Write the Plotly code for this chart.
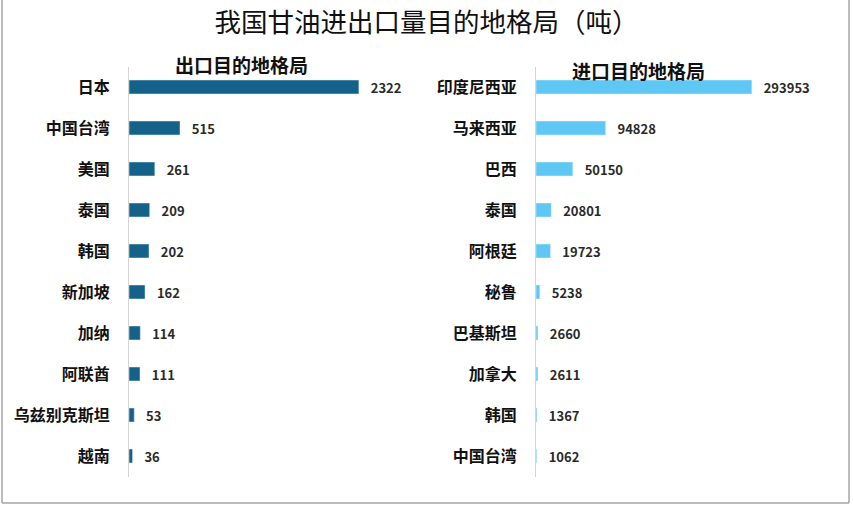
import plotly.graph_objects as go

# ---- data ----
export_countries = ["日本", "中国台湾", "美国", "泰国", "韩国", "新加坡", "加纳", "阿联酋", "乌兹别克斯坦", "越南"]
export_tons = [2322, 515, 261, 209, 202, 162, 114, 111, 53, 36]

import_countries = ["印度尼西亚", "马来西亚", "巴西", "泰国", "阿根廷", "秘鲁", "巴基斯坦", "加拿大", "韩国", "中国台湾"]
import_tons = [293953, 94828, 50150, 20801, 19723, 5238, 2660, 2611, 1367, 1062]

font_cjk = "Noto Sans CJK SC"
W, H = 853, 505


def px_x(v):
    return v / W


def px_y(v):
    return 1 - v / H


fig = go.Figure()

fig.add_trace(go.Bar(
    y=export_countries,
    x=export_tons,
    orientation="h",
    marker_color="#146289",
    text=["   " + str(v) for v in export_tons],
    textposition="outside",
    constraintext="none",
    textfont=dict(size=13, color="#2a2a2a", family=font_cjk, weight="bold"),
    cliponaxis=False,
    xaxis="x",
    yaxis="y",
    showlegend=False,
))

fig.add_trace(go.Bar(
    y=import_countries,
    x=import_tons,
    orientation="h",
    marker_color="#5fc7f3",
    text=["   " + str(v) for v in import_tons],
    textposition="outside",
    constraintext="none",
    textfont=dict(size=13, color="#2a2a2a", family=font_cjk, weight="bold"),
    cliponaxis=False,
    xaxis="x2",
    yaxis="y2",
    showlegend=False,
))

axis_y = dict(
    showline=True,
    linecolor="#d4d4d4",
    linewidth=1,
    showgrid=False,
    ticks="",
    ticklabelstandoff=15,
    tickfont=dict(size=16, color="#111111", family=font_cjk, weight="bold"),
    autorange="reversed",
    domain=[px_y(476.5), px_y(66.5)],
)

fig.update_layout(
    width=W,
    height=H,
    margin=dict(l=0, r=0, t=0, b=0),
    paper_bgcolor="white",
    plot_bgcolor="white",
    bargap=0.66,
    font=dict(family=font_cjk),
    title=dict(
        text="我国甘油进出口量目的地格局（吨）",
        x=0.5,
        xanchor="center",
        y=px_y(23),
        yanchor="middle",
        font=dict(size=26.5, color="#111111", family=font_cjk),
    ),
    xaxis=dict(domain=[px_x(129), px_x(426)], range=[0, 3000], visible=False),
    yaxis=dict(axis_y, anchor="x", categoryorder="array", categoryarray=export_countries),
    xaxis2=dict(domain=[px_x(536), px_x(793)], range=[0, 350000], visible=False),
    yaxis2=dict(axis_y, anchor="x2", categoryorder="array", categoryarray=import_countries),
    annotations=[
        dict(text="<b>出口目的地格局</b>", x=px_x(241), y=px_y(64), xref="paper", yref="paper",
             xanchor="center", yanchor="middle", showarrow=False,
             font=dict(size=19, color="#111111", family=font_cjk)),
        dict(text="<b>进口目的地格局</b>", x=px_x(638), y=px_y(70), xref="paper", yref="paper",
             xanchor="center", yanchor="middle", showarrow=False,
             font=dict(size=19, color="#111111", family=font_cjk)),
    ],
    shapes=[
        dict(type="line", xref="paper", yref="paper", x0=px_x(2), x1=px_x(2), y0=px_y(503), y1=1,
             line=dict(color="#a6a6a6", width=1.5)),
        dict(type="line", xref="paper", yref="paper", x0=px_x(849), x1=px_x(849), y0=px_y(503), y1=1,
             line=dict(color="#a6a6a6", width=1.5)),
        dict(type="line", xref="paper", yref="paper", x0=px_x(2), x1=px_x(849), y0=px_y(503), y1=px_y(503),
             line=dict(color="#a6a6a6", width=1.5)),
    ],
)

fig.write_html("out.html", config={"displayModeBar": False},
               post_script="document.body.style.margin='0';")
